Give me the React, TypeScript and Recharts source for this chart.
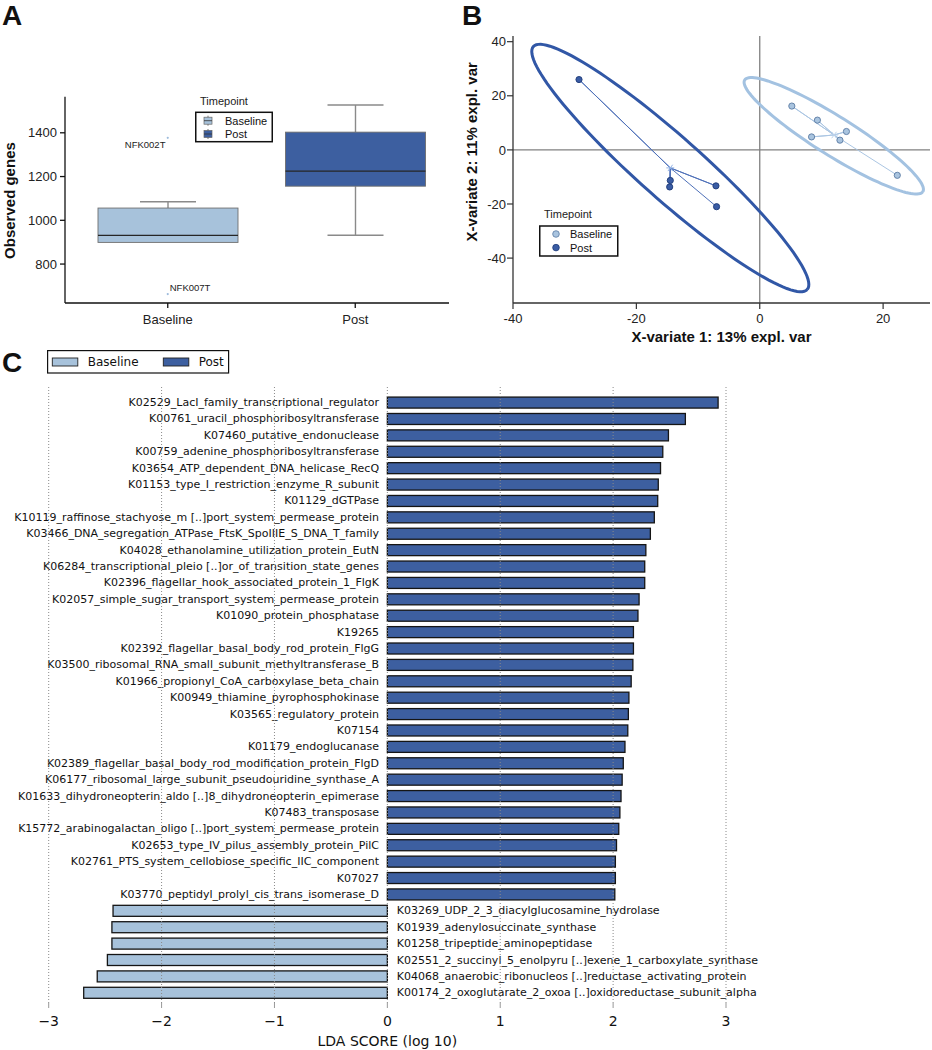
import React from 'react';
import {
  ComposedChart,
  BarChart,
  ScatterChart,
  Bar,
  Scatter,
  XAxis,
  YAxis,
  ReferenceLine,
  Legend,
  Label,
} from 'recharts';

const SANS = '"Liberation Sans", Arial, Helvetica, sans-serif';
const DEJAVU = '"DejaVu Sans", Verdana, sans-serif';

const BASE_COLOR = '#a7c2db';
const POST_COLOR = '#3d5fa0';
const GROUP_FILL: Record<string, string> = { Baseline: BASE_COLOR, Post: POST_COLOR };

// ---------------- Panel A : observed genes ----------------
const timepoints = ['Baseline', 'Post'];
const geneQ1 = [899, 1156];
const geneMedian = [931, 1225];
const geneQ3 = [1056, 1403];
const geneWhiskerLow = [899, 932];
const geneWhiskerHigh = [1085, 1527];
const outlierTimepoints = ['Baseline', 'Baseline'];
const outlierGenes = [1377, 663];
const outlierSamples = ['NFK002T', 'NFK007T'];
const geneTicks = [800, 1000, 1200, 1400];
const geneDomain: [number, number] = [622, 1565];

// ---------------- Panel B : PLS-DA ----------------
const baselineVar1 = [5.2, 9.35, 14.05, 8.4, 13.0, 22.3];
const baselineVar2 = [16.2, 11.0, 6.8, 4.8, 3.6, -9.4];
const postVar1 = [-29.3, -14.5, -14.6, -7.1, -7.0];
const postVar2 = [26.0, -11.3, -13.7, -13.3, -21.0];
const var1Ticks = [-40, -20, 0, 20];
const var2Ticks = [-40, -20, 0, 20, 40];
const var1Domain: [number, number] = [-40, 27.6];
const var2Domain: [number, number] = [-56.6, 42.1];
// confidence ellipses: centre, major semi-axis vector, minor semi-axis vector
const baselineEllipseCenter = [12.0, 5.2];
const baselineEllipseMajor = [14.44, -20.64];
const baselineEllipseMinor = [-1.68, -6.1];
const postEllipseCenter = [-14.5, -6.7];
const postEllipseMajor = [22.2, -44.9];
const postEllipseMinor = [-3.39, -8.68];

// ---------------- Panel C : LEfSe ----------------
const postFeatures = [
  'K02529_LacI_family_transcriptional_regulator',
  'K00761_uracil_phosphoribosyltransferase',
  'K07460_putative_endonuclease',
  'K00759_adenine_phosphoribosyltransferase',
  'K03654_ATP_dependent_DNA_helicase_RecQ',
  'K01153_type_I_restriction_enzyme_R_subunit',
  'K01129_dGTPase',
  'K10119_raffinose_stachyose_m [..]port_system_permease_protein',
  'K03466_DNA_segregation_ATPase_FtsK_SpoIIIE_S_DNA_T_family',
  'K04028_ethanolamine_utilization_protein_EutN',
  'K06284_transcriptional_pleio [..]or_of_transition_state_genes',
  'K02396_flagellar_hook_associated_protein_1_FlgK',
  'K02057_simple_sugar_transport_system_permease_protein',
  'K01090_protein_phosphatase',
  'K19265',
  'K02392_flagellar_basal_body_rod_protein_FlgG',
  'K03500_ribosomal_RNA_small_subunit_methyltransferase_B',
  'K01966_propionyl_CoA_carboxylase_beta_chain',
  'K00949_thiamine_pyrophosphokinase',
  'K03565_regulatory_protein',
  'K07154',
  'K01179_endoglucanase',
  'K02389_flagellar_basal_body_rod_modification_protein_FlgD',
  'K06177_ribosomal_large_subunit_pseudouridine_synthase_A',
  'K01633_dihydroneopterin_aldo [..]8_dihydroneopterin_epimerase',
  'K07483_transposase',
  'K15772_arabinogalactan_oligo [..]port_system_permease_protein',
  'K02653_type_IV_pilus_assembly_protein_PilC',
  'K02761_PTS_system_cellobiose_specific_IIC_component',
  'K07027',
  'K03770_peptidyl_prolyl_cis_trans_isomerase_D',
];
const postLda = [
  2.93, 2.64, 2.49, 2.44, 2.42, 2.4, 2.395, 2.365, 2.33, 2.29, 2.28, 2.28, 2.23, 2.22, 2.18, 2.18,
  2.175, 2.16, 2.14, 2.135, 2.13, 2.105, 2.09, 2.08, 2.07, 2.06, 2.05, 2.03, 2.02, 2.02, 2.015,
];
const baselineFeatures = [
  'K03269_UDP_2_3_diacylglucosamine_hydrolase',
  'K01939_adenylosuccinate_synthase',
  'K01258_tripeptide_aminopeptidase',
  'K02551_2_succinyl_5_enolpyru [..]exene_1_carboxylate_synthase',
  'K04068_anaerobic_ribonucleos [..]reductase_activating_protein',
  'K00174_2_oxoglutarate_2_oxoa [..]oxidoreductase_subunit_alpha',
];
const baselineLda = [-2.43, -2.44, -2.44, -2.48, -2.57, -2.69];
const ldaTicks = [-3, -2, -1, 0, 1, 2, 3];
const ldaDomain: [number, number] = [-3, 3];

// ---------------- derived tables ----------------
const boxRows = timepoints.map((t, i) => ({
  timepoint: t,
  box: [geneQ1[i], geneQ3[i]],
  q1: geneQ1[i],
  q3: geneQ3[i],
  median: geneMedian[i],
  lo: geneWhiskerLow[i],
  hi: geneWhiskerHigh[i],
}));
const outlierRows = outlierSamples.map((s, i) => ({
  timepoint: outlierTimepoints[i],
  genes: outlierGenes[i],
  sample: s,
}));

const mean = (a: number[]) => a.reduce((s, v) => s + v, 0) / a.length;
const baselinePts = baselineVar1.map((x, i) => ({ x, y: baselineVar2[i] }));
const postPts = postVar1.map((x, i) => ({ x, y: postVar2[i] }));
const baselineCentroid = { x: mean(baselineVar1), y: mean(baselineVar2) };
const postCentroid = { x: mean(postVar1), y: mean(postVar2) };
const spokes = (c: { x: number; y: number }, pts: { x: number; y: number }[]) =>
  pts.flatMap((p) => [c, p]);

const ELLIPSE_STEPS = 120;
function ellipsePoints(c: number[], u: number[], v: number[]) {
  const out: { x: number; y: number }[] = [];
  for (let i = 0; i <= ELLIPSE_STEPS; i++) {
    const t = (2 * Math.PI * i) / ELLIPSE_STEPS;
    out.push({
      x: c[0] + Math.cos(t) * u[0] + Math.sin(t) * v[0],
      y: c[1] + Math.cos(t) * u[1] + Math.sin(t) * v[1],
    });
  }
  return out;
}
const baselineEllipse = ellipsePoints(baselineEllipseCenter, baselineEllipseMajor, baselineEllipseMinor);
const postEllipse = ellipsePoints(postEllipseCenter, postEllipseMajor, postEllipseMinor);

const ldaRows = [
  ...postFeatures.map((f, i) => ({ feature: f, lda: postLda[i], group: 'Post' })),
  ...baselineFeatures.map((f, i) => ({ feature: f, lda: baselineLda[i], group: 'Baseline' })),
];

// ---------------- shapes ----------------
const BoxShape = (props: any) => {
  const { x, y, width, height, payload } = props;
  if (!payload) return <g />;
  const { q1, q3, median, lo, hi, timepoint } = payload;
  const py = (v: number) => y + (height * (q3 - v)) / (q3 - q1);
  const cx = x + width / 2;
  const cap = width * 0.2;
  const top = Math.min(py(q1), py(q3));
  const h = Math.abs(py(q1) - py(q3));
  const wc = '#8a8a8a';
  return (
    <g>
      {hi > q3 && (
        <g>
          <line x1={cx} x2={cx} y1={py(q3)} y2={py(hi)} stroke={wc} strokeWidth={1.4} />
          <line x1={cx - cap} x2={cx + cap} y1={py(hi)} y2={py(hi)} stroke={wc} strokeWidth={1.4} />
        </g>
      )}
      {lo < q1 && (
        <g>
          <line x1={cx} x2={cx} y1={py(q1)} y2={py(lo)} stroke={wc} strokeWidth={1.4} />
          <line x1={cx - cap} x2={cx + cap} y1={py(lo)} y2={py(lo)} stroke={wc} strokeWidth={1.4} />
        </g>
      )}
      <rect x={x} y={top} width={width} height={h} fill={GROUP_FILL[timepoint]} stroke="#6f6f6f" strokeWidth={0.9} />
      <line x1={x} x2={x + width} y1={py(median)} y2={py(median)} stroke="#262626" strokeWidth={1.3} />
    </g>
  );
};

const OUTLIER_LABEL: Record<string, { dx: number; dy: number; anchor: 'start' | 'end' }> = {
  NFK002T: { dx: -2.3, dy: 6.6, anchor: 'end' },
  NFK007T: { dx: 2, dy: -6.3, anchor: 'start' },
};

const OutlierShape = (props: any) => {
  const { cx, cy, payload } = props;
  if (cx == null || cy == null || !payload) return <g />;
  const lp = OUTLIER_LABEL[payload.sample] || { dx: 3, dy: 0, anchor: 'start' };
  return (
    <g>
      <circle cx={cx} cy={cy} r={1.1} fill="#9dbbdc" />
      <text
        x={cx + lp.dx}
        y={cy + lp.dy}
        textAnchor={lp.anchor}
        dominantBaseline="central"
        fontSize={9.5}
        fontFamily={SANS}
        fill="#222"
      >
        {payload.sample}
      </text>
    </g>
  );
};

const NoShape = () => <g />;

const makeDot = (fill: string, stroke: string) => (props: any) => {
  const { cx, cy } = props;
  if (cx == null || cy == null) return <g />;
  return <circle cx={cx} cy={cy} r={3.1} fill={fill} stroke={stroke} strokeWidth={0.9} />;
};

const makeStar = (color: string) => (props: any) => {
  const { cx, cy } = props;
  if (cx == null || cy == null) return <g />;
  const r = 4;
  return (
    <g stroke={color} strokeWidth={1}>
      <line x1={cx - r} x2={cx + r} y1={cy} y2={cy} />
      <line x1={cx - r * 0.6} x2={cx + r * 0.6} y1={cy - r * 0.8} y2={cy + r * 0.8} />
      <line x1={cx - r * 0.6} x2={cx + r * 0.6} y1={cy + r * 0.8} y2={cy - r * 0.8} />
    </g>
  );
};

const LdaBar = (props: any) => {
  const { x, y, width, height, payload } = props;
  if (!payload) return <g />;
  const left = Math.min(x, x + width);
  const right = Math.max(x, x + width);
  const top = Math.min(y, y + height);
  const h = Math.abs(height);
  const isPost = payload.group === 'Post';
  const zero = payload.lda >= 0 ? left : right;
  const cy = top + h / 2;
  return (
    <g>
      <rect x={left} y={top} width={right - left} height={h} fill={GROUP_FILL[payload.group]} stroke="#151515" strokeWidth={1.3} />
      <text
        x={isPost ? zero - 8.3 : zero + 9.5}
        y={cy}
        textAnchor={isPost ? 'end' : 'start'}
        dominantBaseline="central"
        fontSize={11}
        fontFamily={DEJAVU}
        fill="#111"
      >
        {payload.feature}
      </text>
    </g>
  );
};

// ---------------- titles & legends ----------------
const yTitle = (text: string, dx: number, dy: number, size: number) => (props: any) => {
  const vb = props.viewBox || {};
  const cx = (vb.x ?? 0) + dx;
  const cy = (vb.y ?? 0) + (vb.height ?? 0) / 2 + dy;
  return (
    <text
      x={cx}
      y={cy}
      transform={`rotate(-90 ${cx} ${cy})`}
      textAnchor="middle"
      dominantBaseline="central"
      fontSize={size}
      fontWeight="bold"
      fontFamily={SANS}
      fill="#111"
    >
      {text}
    </text>
  );
};

const xTitle = (text: string, dy: number, size: number, family: string, bold: boolean) => (props: any) => {
  const vb = props.viewBox || {};
  const cx = (vb.x ?? 0) + (vb.width ?? 0) / 2;
  const cy = (vb.y ?? 0) + dy;
  return (
    <text
      x={cx}
      y={cy}
      textAnchor="middle"
      dominantBaseline="central"
      fontSize={size}
      fontWeight={bold ? 'bold' : 'normal'}
      fontFamily={family}
      fill="#111"
    >
      {text}
    </text>
  );
};

const BoxLegend = () => (
  <svg width={80} height={50} style={{ display: 'block', overflow: 'visible' }}>
    <text x={5} y={6.7} dominantBaseline="central" fontSize={11} fontFamily={SANS} fill="#222">
      Timepoint
    </text>
    <rect x={0.75} y={18.3} width={76.5} height={29.4} fill="#fff" stroke="#111" strokeWidth={1.5} />
    {timepoints.map((t, i) => {
      const cy = 26.7 + i * 13.3;
      return (
        <g key={t}>
          <line x1={13} x2={13} y1={cy - 5} y2={cy + 5} stroke="#777" strokeWidth={1} />
          <rect x={9} y={cy - 3.5} width={8} height={7} fill={GROUP_FILL[t]} stroke="#666" strokeWidth={0.7} />
          <line x1={9} x2={17} y1={cy} y2={cy} stroke="#333" strokeWidth={0.8} />
          <text x={30} y={cy} dominantBaseline="central" fontSize={11} fontFamily={SANS} fill="#111">
            {t}
          </text>
        </g>
      );
    })}
  </svg>
);

const DOT_STYLE: Record<string, { fill: string; stroke: string }> = {
  Baseline: { fill: '#a9c4df', stroke: '#5a7ba3' },
  Post: { fill: '#3a5ca4', stroke: '#1d3a78' },
};

const PointLegend = () => (
  <svg width={82} height={52} style={{ display: 'block', overflow: 'visible' }}>
    <text x={5} y={8} dominantBaseline="central" fontSize={11} fontFamily={SANS} fill="#222">
      Timepoint
    </text>
    <rect x={0.75} y={20} width={78} height={30} fill="#fff" stroke="#111" strokeWidth={1.5} />
    {timepoints.map((t, i) => {
      const cy = 28 + i * 13.6;
      return (
        <g key={t}>
          <circle cx={17} cy={cy} r={3.3} fill={DOT_STYLE[t].fill} stroke={DOT_STYLE[t].stroke} strokeWidth={0.8} />
          <text x={31} y={cy} dominantBaseline="central" fontSize={11} fontFamily={SANS} fill="#111">
            {t}
          </text>
        </g>
      );
    })}
  </svg>
);

const LdaLegend = () => (
  <svg width={184} height={25} style={{ display: 'block', overflow: 'visible' }}>
    <rect x={0.6} y={0.6} width={181} height={22.4} fill="#fff" stroke="#111" strokeWidth={1.2} />
    {timepoints.map((t, i) => {
      const px = i === 0 ? 5.3 : 116.3;
      return (
        <g key={t}>
          <rect x={px} y={8} width={25.5} height={8} fill={GROUP_FILL[t]} stroke="#222" strokeWidth={0.9} />
          <text x={px + 35.4} y={12} dominantBaseline="central" fontSize={12} fontFamily={DEJAVU} fill="#111">
            {t}
          </text>
        </g>
      );
    })}
  </svg>
);

const fmtMinus = (v: number) => (v < 0 ? `\u2212${Math.abs(v)}` : String(v));

// ---------------- panels ----------------
const PanelA = () => (
  <ComposedChart width={460} height={345} data={boxRows} margin={{ top: 96.7, right: 11, bottom: 0, left: 20 }}>
    <XAxis
      dataKey="timepoint"
      type="category"
      allowDuplicatedCategory={false}
      padding={{ left: 9, right: 0 }}
      height={42}
      axisLine={{ stroke: '#111', strokeWidth: 1.3 }}
      tickLine={{ stroke: '#111', strokeWidth: 1.3 }}
      tickSize={5}
      tickMargin={7}
      tick={{ fontSize: 13, fill: '#222', fontFamily: SANS }}
    />
    <YAxis
      type="number"
      domain={geneDomain}
      ticks={geneTicks}
      allowDataOverflow
      width={45}
      axisLine={{ stroke: '#111', strokeWidth: 1.3 }}
      tickLine={{ stroke: '#111', strokeWidth: 1.3 }}
      tickSize={5}
      tickMargin={3}
      tick={{ fontSize: 13, fill: '#222', fontFamily: SANS }}
    >
      <Label content={yTitle('Observed genes', -10.3, 0.7, 15)} />
    </YAxis>
    <Bar dataKey="box" barSize={140} shape={(p: any) => <BoxShape {...p} />} isAnimationActive={false} />
    <Scatter data={outlierRows} dataKey="genes" shape={(p: any) => <OutlierShape {...p} />} isAnimationActive={false} />
    <Legend
      layout="horizontal"
      verticalAlign="middle"
      align="center"
      content={() => <BoxLegend />}
      wrapperStyle={{ position: 'absolute', left: 195, top: 94, width: 80, height: 50 }}
    />
  </ComposedChart>
);

const PanelB = () => (
  <ScatterChart width={472} height={345} margin={{ top: 36, right: 2, bottom: 0, left: 13 }}>
    <XAxis
      type="number"
      dataKey="x"
      domain={var1Domain}
      ticks={var1Ticks}
      allowDataOverflow
      height={42}
      axisLine={{ stroke: '#333', strokeWidth: 1.3 }}
      tickLine={{ stroke: '#333', strokeWidth: 1.2 }}
      tickSize={6}
      tickMargin={5}
      tick={{ fontSize: 13, fill: '#222', fontFamily: SANS }}
    >
      <Label content={xTitle('X-variate 1: 13% expl. var', 33.7, 15, SANS, true)} />
    </XAxis>
    <YAxis
      type="number"
      dataKey="y"
      domain={var2Domain}
      ticks={var2Ticks}
      allowDataOverflow
      width={40}
      axisLine={{ stroke: '#333', strokeWidth: 1.3 }}
      tickLine={{ stroke: '#333', strokeWidth: 1.2 }}
      tickSize={6}
      tickMargin={1}
      tick={{ fontSize: 13, fill: '#222', fontFamily: SANS }}
    >
      <Label content={yTitle('X-variate 2: 11% expl. var', -1.3, -17.7, 15)} />
    </YAxis>
    <ReferenceLine x={0} stroke="#808080" strokeWidth={1.3} />
    <ReferenceLine y={0} stroke="#808080" strokeWidth={1.3} />
    <Scatter data={postEllipse} line={{ stroke: '#3157a6', strokeWidth: 3 }} shape={NoShape} isAnimationActive={false} legendType="none" />
    <Scatter data={baselineEllipse} line={{ stroke: '#a3c2e1', strokeWidth: 3 }} shape={NoShape} isAnimationActive={false} legendType="none" />
    <Scatter data={spokes(postCentroid, postPts)} line={{ stroke: '#4f71b9', strokeWidth: 1 }} shape={NoShape} isAnimationActive={false} legendType="none" />
    <Scatter data={spokes(baselineCentroid, baselinePts)} line={{ stroke: '#abc6e3', strokeWidth: 1 }} shape={NoShape} isAnimationActive={false} legendType="none" />
    <Scatter data={postPts} shape={makeDot(DOT_STYLE.Post.fill, DOT_STYLE.Post.stroke)} isAnimationActive={false} />
    <Scatter data={baselinePts} shape={makeDot(DOT_STYLE.Baseline.fill, DOT_STYLE.Baseline.stroke)} isAnimationActive={false} />
    <Scatter data={[postCentroid]} shape={makeStar('#92b2e6')} isAnimationActive={false} legendType="none" />
    <Scatter data={[baselineCentroid]} shape={makeStar('#bcd3ec')} isAnimationActive={false} legendType="none" />
    <Legend
      layout="horizontal"
      verticalAlign="middle"
      align="center"
      content={() => <PointLegend />}
      wrapperStyle={{ position: 'absolute', left: 79, top: 206, width: 82, height: 52 }}
    />
  </ScatterChart>
);

const PanelC = () => (
  <BarChart
    width={932}
    height={710}
    data={ldaRows}
    layout="vertical"
    margin={{ top: 45, right: 206, bottom: 0, left: 48.7 }}
    barCategoryGap="17%"
  >
    <XAxis
      type="number"
      domain={ldaDomain}
      ticks={ldaTicks}
      tickFormatter={fmtMinus}
      axisLine={false}
      tickLine={{ stroke: '#999', strokeWidth: 1 }}
      tickSize={5}
      tickMargin={8}
      height={47}
      tick={{ fontSize: 14, fill: '#111', fontFamily: DEJAVU }}
    >
      <Label content={xTitle('LDA SCORE (log 10)', 38, 14, DEJAVU, false)} />
    </XAxis>
    <YAxis type="category" dataKey="feature" hide width={0} padding={{ top: 9.3, bottom: 2.1 }} />
    <Bar dataKey="lda" shape={(p: any) => <LdaBar {...p} />} isAnimationActive={false} />
    {ldaTicks.map((t) => (
      <ReferenceLine key={t} x={t} stroke="#8a8a8a" strokeWidth={1} strokeDasharray="1 2" />
    ))}
    <Legend
      layout="horizontal"
      verticalAlign="middle"
      align="center"
      content={() => <LdaLegend />}
      wrapperStyle={{ position: 'absolute', left: 47, top: 10, width: 184, height: 25 }}
    />
  </BarChart>
);

const PanelLetter = ({ letter, left, top }: { letter: string; left: number; top: number }) => (
  <div
    style={{
      position: 'absolute',
      left,
      top,
      fontFamily: SANS,
      fontWeight: 'bold',
      fontSize: 28,
      lineHeight: 'normal',
      color: '#111',
    }}
  >
    {letter}
  </div>
);

export default function App() {
  return (
    <div style={{ position: 'absolute', left: 0, top: 0, width: 932, height: 1050, background: '#fff', overflow: 'hidden' }}>
      <div style={{ position: 'absolute', left: 0, top: 0 }}>
        <PanelA />
      </div>
      <div style={{ position: 'absolute', left: 460, top: 0 }}>
        <PanelB />
      </div>
      <div style={{ position: 'absolute', left: 0, top: 340 }}>
        <PanelC />
      </div>
      <PanelLetter letter="A" left={2} top={0} />
      <PanelLetter letter="B" left={462} top={0} />
      <PanelLetter letter="C" left={2} top={347} />
    </div>
  );
}
